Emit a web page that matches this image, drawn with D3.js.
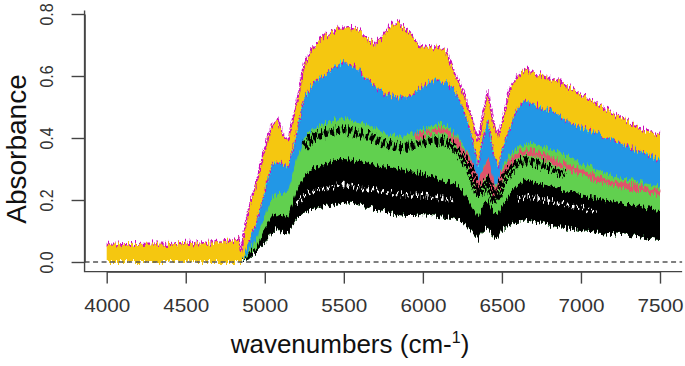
<!DOCTYPE html>
<html>
<head>
<meta charset="utf-8">
<script src="https://cdn.jsdelivr.net/npm/d3@7"></script>
<style>
  html, body { margin: 0; padding: 0; background: #fff; }
  svg { display: block; font-family: "Liberation Sans", Arial, sans-serif; }
</style>
</head>
<body>
<div id="chart"></div>
<script>
// ---- data (absorbance bands per colour group) ----
const wn = [4000, 4100, 4200, 4300, 4400, 4500, 4600, 4700, 4800, 4835,
            4850, 4870, 4900, 4950, 5000, 5050, 5080, 5120, 5150, 5200,
            5250, 5300, 5350, 5400, 5450, 5500, 5550, 5600, 5650, 5700,
            5750, 5800, 5850, 5900, 5950, 6000, 6050, 6100, 6150, 6200,
            6250, 6300, 6350, 6380, 6410, 6450, 6480, 6500, 6550, 6600,
            6650, 6700, 6800, 6900, 7000, 7100, 7200, 7300, 7400, 7500];

const yellowTop = [0.055, 0.058, 0.058, 0.060, 0.058, 0.062, 0.060, 0.065, 0.070, 0.080,
                   0.030, 0.100, 0.180, 0.260, 0.370, 0.450, 0.460, 0.410, 0.400, 0.510,
                   0.640, 0.690, 0.715, 0.735, 0.750, 0.757, 0.758, 0.745, 0.720, 0.705,
                   0.730, 0.765, 0.772, 0.745, 0.716, 0.690, 0.695, 0.690, 0.678, 0.610,
                   0.555, 0.480, 0.390, 0.470, 0.550, 0.440, 0.410, 0.450, 0.560, 0.605,
                   0.622, 0.612, 0.595, 0.572, 0.542, 0.510, 0.480, 0.452, 0.425, 0.410];

const blueTop = [0, 0, 0, 0, 0, 0, 0, 0, 0, 0,
                 0, 0.020, 0.070, 0.130, 0.230, 0.320, 0.325, 0.310, 0.310, 0.410,
                 0.530, 0.570, 0.595, 0.610, 0.635, 0.645, 0.635, 0.620, 0.590, 0.565,
                 0.545, 0.535, 0.530, 0.533, 0.550, 0.565, 0.582, 0.587, 0.576, 0.555,
                 0.500, 0.426, 0.310, 0.400, 0.458, 0.340, 0.310, 0.360, 0.430, 0.500,
                 0.520, 0.510, 0.490, 0.460, 0.435, 0.415, 0.395, 0.372, 0.350, 0.330];

const greenTop = [0, 0, 0, 0, 0, 0, 0, 0, 0, 0,
                  0, 0.010, 0.040, 0.075, 0.150, 0.210, 0.220, 0.225, 0.235, 0.330,
                  0.400, 0.425, 0.442, 0.452, 0.462, 0.465, 0.458, 0.450, 0.445, 0.432,
                  0.420, 0.410, 0.405, 0.410, 0.418, 0.428, 0.438, 0.447, 0.440, 0.415,
                  0.383, 0.340, 0.254, 0.300, 0.330, 0.243, 0.260, 0.307, 0.350, 0.372,
                  0.383, 0.380, 0.365, 0.345, 0.320, 0.298, 0.280, 0.265, 0.255, 0.243];

const blackTop = [0, 0, 0, 0, 0, 0, 0, 0, 0, 0,
                  0, 0.005, 0.030, 0.050, 0.110, 0.150, 0.155, 0.145, 0.150, 0.230,
                  0.280, 0.300, 0.315, 0.322, 0.330, 0.332, 0.330, 0.322, 0.318, 0.310,
                  0.305, 0.307, 0.300, 0.295, 0.290, 0.286, 0.275, 0.265, 0.260, 0.254,
                  0.230, 0.190, 0.146, 0.180, 0.200, 0.157, 0.160, 0.180, 0.220, 0.250,
                  0.265, 0.260, 0.245, 0.230, 0.215, 0.205, 0.195, 0.185, 0.175, 0.168];

const blackBottom = [0, 0, 0, 0, 0, 0, 0, 0, 0, 0,
                     0, 0, 0.010, 0.035, 0.060, 0.100, 0.110, 0.090, 0.095, 0.140,
                     0.160, 0.168, 0.175, 0.180, 0.185, 0.190, 0.188, 0.182, 0.178, 0.170,
                     0.165, 0.157, 0.152, 0.148, 0.148, 0.155, 0.152, 0.148, 0.145, 0.140,
                     0.130, 0.103, 0.071, 0.100, 0.114, 0.075, 0.080, 0.103, 0.120, 0.130,
                     0.135, 0.130, 0.118, 0.110, 0.100, 0.095, 0.090, 0.085, 0.078, 0.071];

// thin red group
const redWn = [5950, 6000, 6050, 6100, 6150, 6200, 6250, 6300, 6350, 6380, 6410, 6450, 6480,
               6500, 6550, 6600, 6650, 6700, 6800, 6900, 7000, 7100, 7200, 7300, 7400, 7500];
const redVal = [0.405, 0.410, 0.418, 0.425, 0.418, 0.395, 0.360, 0.320, 0.240, 0.280, 0.310, 0.225, 0.240,
                0.280, 0.320, 0.345, 0.356, 0.350, 0.335, 0.310, 0.290, 0.270, 0.255, 0.245, 0.235, 0.222];

// upper clump of black spectra sitting in the green
const clumpWn = [5250, 5300, 5350, 5400, 5450, 5500, 5550, 5600, 5650, 5700, 5750, 5800,
                 5850, 5900, 5950, 6000, 6050, 6100, 6150, 6200, 6250, 6300, 6350, 6380,
                 6410, 6450, 6480, 6500, 6550, 6600, 6650, 6700, 6800, 6900];
const clumpVal = [0.375, 0.400, 0.412, 0.418, 0.422, 0.425, 0.420, 0.412, 0.408, 0.395, 0.385, 0.375,
                  0.370, 0.372, 0.378, 0.385, 0.390, 0.392, 0.385, 0.368, 0.340, 0.300, 0.215, 0.240,
                  0.260, 0.205, 0.215, 0.255, 0.295, 0.318, 0.328, 0.322, 0.305, 0.280];

// white gaps between the lower black spectra
const gapAWn = [5200, 5250, 5300, 5350, 5400, 5450, 5500, 5550, 5600, 5650, 5700,
                5750, 5800, 5850, 5900, 5950, 6000, 6050, 6100, 6150, 6200];
const gapAVal = [0.190, 0.215, 0.228, 0.236, 0.242, 0.246, 0.248, 0.245, 0.240, 0.236, 0.230,
                 0.226, 0.222, 0.218, 0.215, 0.214, 0.214, 0.210, 0.206, 0.202, 0.196];
const gapBWn = [6600, 6650, 6700, 6800, 6900, 7000, 7100];
const gapBVal = [0.205, 0.212, 0.208, 0.198, 0.186, 0.175, 0.165];

const xTicks = [4000, 4500, 5000, 5500, 6000, 6500, 7000, 7500];
const yTicks = [0, 0.2, 0.4, 0.6, 0.8];

// R 4.x palette
const col = {
    black: "#000000", red: "#DF536B", green: "#61D04F", blue: "#2297E6",
    cyan: "#28E2E5", magenta: "#CD0BBC", yellow: "#F5C710"
};

// ---- layout ----
const W = 685, H = 366;
const x = d3.scaleLinear().domain([4000, 7500]).range([106.7, 660]);
const y = d3.scaleLinear().domain([0, 0.8]).range([262, 14]);
const xLo = x(3860), xHi = x(7640), yLo = y(-0.031), yHi = y(0.811);

const svg = d3.select("#chart").append("svg")
    .attr("width", W)
    .attr("height", H);

// roughen the band edges a little, like hundreds of noisy spectra
const defs = svg.append("defs");
const rough = defs.append("filter")
    .attr("id", "rough")
    .attr("filterUnits", "userSpaceOnUse")
    .attr("x", 80).attr("y", 0).attr("width", 605).attr("height", 275)
    .attr("color-interpolation-filters", "sRGB");
rough.append("feTurbulence")
    .attr("type", "fractalNoise")
    .attr("baseFrequency", "0.6 0.07")
    .attr("numOctaves", 2)
    .attr("seed", 7)
    .attr("result", "noise");
let ct = rough.append("feComponentTransfer").attr("in", "noise").attr("result", "n2");
ct.append("feFuncR").attr("type", "linear").attr("slope", 0).attr("intercept", 0.5);
ct.append("feFuncG").attr("type", "linear").attr("slope", 2.4).attr("intercept", -0.7);
rough.append("feDisplacementMap")
    .attr("in", "SourceGraphic").attr("in2", "n2")
    .attr("scale", 6)
    .attr("xChannelSelector", "R").attr("yChannelSelector", "G");

const pts = (xs, lo, hi) => xs.map((w, i) => ({ w: w, lo: lo[i], hi: hi[i] }));

const band = d3.area()
    .x(d => x(d.w))
    .y0(d => y(d.lo))
    .y1(d => y(d.hi));

const line = d3.line()
    .x(d => x(d.w))
    .y(d => y(d.hi));

let spectra = svg.append("g").attr("class", "spectra").attr("filter", "url(#rough)");

// yellow group, magenta edge on top
spectra.append("path")
    .datum(pts(wn, blackBottom, yellowTop))
    .attr("d", band)
    .attr("fill", col.yellow);
spectra.append("path")
    .datum(pts(wn, blackBottom, yellowTop))
    .attr("d", line)
    .attr("fill", "none")
    .attr("stroke", col.magenta)
    .attr("stroke-width", 2.2)
    .attr("stroke-dasharray", "3 1.5");

// blue group
spectra.append("path")
    .datum(pts(wn, blackBottom, blueTop))
    .attr("d", band)
    .attr("fill", col.blue);
spectra.append("path")
    .datum(pts(wn.slice(12), blackBottom.slice(12), blueTop.slice(12)))
    .attr("d", line)
    .attr("fill", "none")
    .attr("stroke", col.magenta)
    .attr("stroke-width", 1.8)
    .attr("stroke-dasharray", "2 2.5");
spectra.append("path")
    .datum(pts(wn.slice(12), blackBottom.slice(12), blueTop.slice(12)))
    .attr("d", line)
    .attr("fill", "none")
    .attr("stroke", col.cyan)
    .attr("stroke-width", 1.4)
    .attr("stroke-dasharray", "1.5 5")
    .attr("stroke-dashoffset", 2);

// green group
spectra.append("path")
    .datum(pts(wn, blackBottom, greenTop))
    .attr("d", band)
    .attr("fill", col.green);

// red group
spectra.append("path")
    .datum(pts(redWn, redVal, redVal))
    .attr("d", line)
    .attr("fill", "none")
    .attr("stroke", col.red)
    .attr("stroke-width", 5);

// upper black clump
spectra.append("path")
    .datum(pts(clumpWn, clumpVal, clumpVal))
    .attr("d", line)
    .attr("fill", "none")
    .attr("stroke", col.black)
    .attr("stroke-width", 8)
    .attr("stroke-dasharray", "4 2");

// lower black group
spectra.append("path")
    .datum(pts(wn, blackBottom, blackTop))
    .attr("d", band)
    .attr("fill", col.black);

// white gaps
[[gapAWn, gapAVal], [gapBWn, gapBVal]].forEach(g => {
    spectra.append("path")
        .datum(pts(g[0], g[1], g[1]))
        .attr("d", line)
        .attr("fill", "none")
        .attr("stroke", "#fff")
        .attr("stroke-width", 2.5)
        .attr("stroke-dasharray", "3 2");
});

// dashed zero line
svg.append("line")
    .attr("x1", xLo).attr("x2", xHi)
    .attr("y1", y(0)).attr("y2", y(0))
    .attr("stroke", "#555")
    .attr("stroke-width", 1.3)
    .attr("stroke-dasharray", "5 3.5");

// L shaped box
svg.append("path")
    .attr("d", `M${xLo},${yHi}V${yLo}H${xHi}`)
    .attr("fill", "none")
    .attr("stroke", "#444")
    .attr("stroke-width", 1.4);

// axes
let xAxis = svg.append("g")
    .attr("transform", `translate(0,${yLo})`)
    .call(d3.axisBottom(x).tickValues(xTicks).tickSize(12).tickSizeOuter(0).tickFormat(d3.format("d")));
let yAxis = svg.append("g")
    .attr("transform", `translate(${xLo},0)`)
    .call(d3.axisLeft(y).tickValues(yTicks).tickSize(13).tickSizeOuter(0).tickFormat(d3.format(".1f")));

[xAxis, yAxis].forEach(a => {
    a.select(".domain").attr("stroke", "#444").attr("stroke-width", 1.4);
    a.selectAll(".tick line").attr("stroke", "#444").attr("stroke-width", 1.4);
});

xAxis.selectAll(".tick text")
    .attr("y", 0).attr("dy", 0)
    .attr("transform", "translate(0,40) scale(1.15,1)")
    .attr("fill", "#333")
    .style("font-size", "18px");

yAxis.selectAll(".tick text")
    .attr("x", 0).attr("dy", 0)
    .attr("text-anchor", "middle")
    .attr("transform", "translate(-32,0) scale(1.2,1) rotate(-90)")
    .attr("fill", "#333")
    .style("font-size", "16px");

// axis titles
svg.append("text")
    .attr("transform", "translate(26,149) rotate(-90)")
    .attr("text-anchor", "middle")
    .attr("fill", "#111")
    .style("font-size", "28px")
    .text("Absorbance");

let xt = svg.append("text")
    .attr("x", 350).attr("y", 353)
    .attr("text-anchor", "middle")
    .attr("fill", "#111")
    .style("font-size", "26px");
xt.append("tspan").text("wavenumbers (cm-");
xt.append("tspan").attr("dy", -10).style("font-size", "16px").text("1");
xt.append("tspan").attr("dy", 10).text(")");
</script>
</body>
</html>
